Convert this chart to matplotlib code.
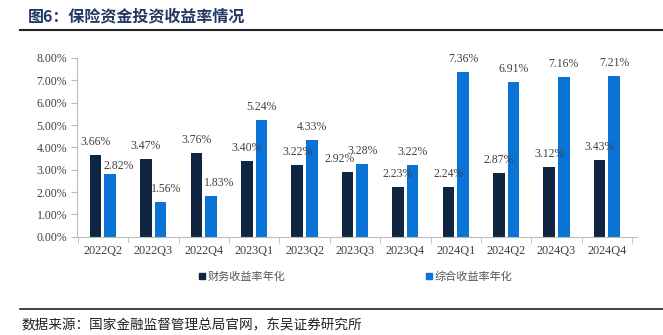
import numpy as np
import matplotlib
matplotlib.use("Agg")
import matplotlib.pyplot as plt
from matplotlib.lines import Line2D

quarters = ["2022Q2", "2022Q3", "2022Q4", "2023Q1", "2023Q2", "2023Q3",
            "2023Q4", "2024Q1", "2024Q2", "2024Q3", "2024Q4"]
fin_yield = [3.66, 3.47, 3.76, 3.40, 3.22, 2.92, 2.23, 2.24, 2.87, 3.12, 3.43]
comp_yield = [2.82, 1.56, 1.83, 5.24, 4.33, 3.28, 3.22, 7.36, 6.91, 7.16, 7.21]
series_names = ["财务收益率年化", "综合收益率年化"]
y_ticks = [0, 1, 2, 3, 4, 5, 6, 7, 8]

# small nudges (points) for labels that would collide, as in the source
fin_dx = [0, 0, 0, 0, 0, -6, 0, 0, 0, 0, 0]
comp_dx = [6, 4, 6, 0, 0, 0, 0, 0, 0, 0, 0]
comp_dy = [-4, 0, 0, 0, 0, 0, 0, 0, 0, 0, 0]

cjk = ["Noto Sans CJK SC", "DejaVu Sans"]
serif = ["Liberation Serif", "DejaVu Serif"]
c_dark = "#0f2542"
c_blue = "#0a74d6"
c_text = "#404040"

fig = plt.figure(figsize=(6.63, 3.35), dpi=100)
ax = fig.add_axes([0.116, 0.293, 0.845, 0.534])

x = np.arange(len(quarters))
w = 0.23
gap = 0.06
b1 = ax.bar(x - w / 2 - gap / 2, fin_yield, w, color=c_dark, label=series_names[0])
b2 = ax.bar(x + w / 2 + gap / 2, comp_yield, w, color=c_blue, label=series_names[1])

for rect, v, dx in zip(b1, fin_yield, fin_dx):
    ax.annotate(f"{v:.2f}%", (rect.get_x() + rect.get_width() / 2, v),
                xytext=(dx, 5), textcoords="offset points",
                ha="center", va="bottom", fontsize=8.5, family=serif, color=c_text)
for rect, v, dx, dy in zip(b2, comp_yield, comp_dx, comp_dy):
    ax.annotate(f"{v:.2f}%", (rect.get_x() + rect.get_width() / 2, v),
                xytext=(dx, 5 + dy), textcoords="offset points",
                ha="center", va="bottom", fontsize=8.5, family=serif, color=c_text)

ax.set_ylim(0, 8)
ax.set_xlim(-0.516, 10.6)
ax.set_yticks(y_ticks)
ax.set_yticklabels([f"{t:.2f}%" for t in y_ticks], family=serif, fontsize=8.5, color=c_text)
ax.set_xticks(x)
ax.set_xticklabels(quarters, family=serif, fontsize=8.8, color=c_text)
ax.tick_params(axis="x", length=0, pad=6)
ax.set_xticks(np.arange(-0.5, len(quarters)), minor=True)
ax.tick_params(axis="x", which="minor", length=4, color="#bbbbbb")
ax.tick_params(axis="y", length=4, color="#bbbbbb", pad=3)

for s in ["top", "right"]:
    ax.spines[s].set_visible(False)
ax.spines["left"].set_color("#bbbbbb")
ax.spines["bottom"].set_color("#bbbbbb")

handles = [Line2D([], [], marker="s", linestyle="none", color=c, markersize=5)
           for c in (c_dark, c_blue)]
fig.legend(handles, series_names, loc="center", bbox_to_anchor=(0.535, 0.173),
           ncol=2, frameon=False, prop={"family": cjk, "size": 8},
           columnspacing=12.5, handletextpad=0.1, handlelength=0.8, labelcolor="#555555")

fig.text(0.042, 0.952, "图6：保险资金投资收益率情况", family=cjk, fontsize=11.5,
         fontweight="bold", color="#1f3864", va="center")
fig.add_artist(Line2D([0.03, 1.0], [0.91, 0.91], color="#222222", lw=1.5))
fig.add_artist(Line2D([0.03, 1.0], [0.077, 0.077], color="#222222", lw=1.2))
fig.text(0.033, 0.03, "数据来源：国家金融监督管理总局官网，东吴证券研究所", family=cjk,
         fontsize=9.8, color="#222222", va="center")

fig.savefig("out.png", dpi=100)
